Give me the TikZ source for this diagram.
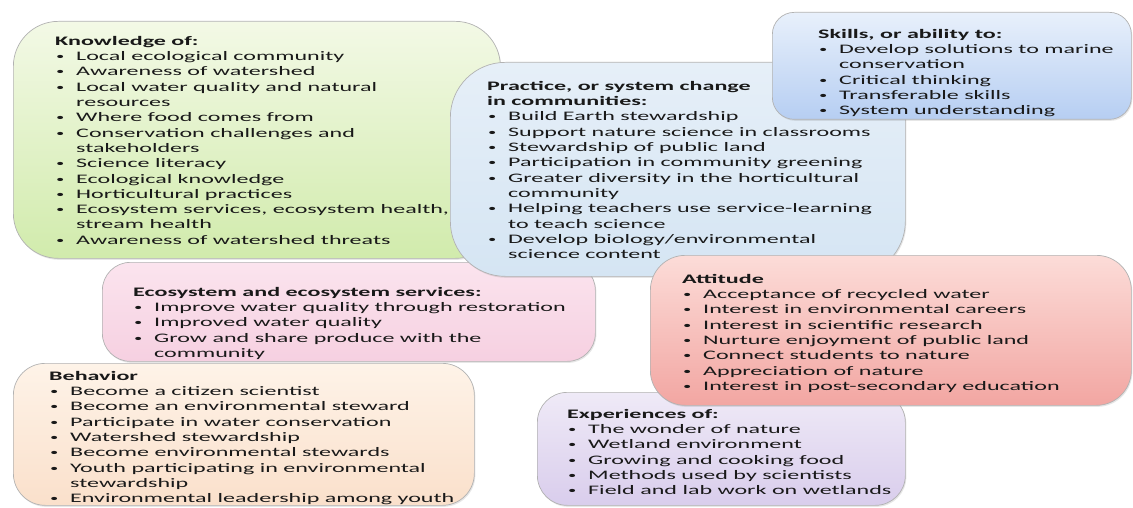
\documentclass[tikz,border=0pt]{standalone}
\usepackage{fontspec}
\setmainfont[FakeStretch=1.85]{Carlito}
\usetikzlibrary{shadows}
\definecolor{knowtop}{HTML}{F3F9E6}
\definecolor{knowbot}{HTML}{D1EBAC}
\definecolor{practop}{HTML}{E6EFF8}
\definecolor{pracbot}{HTML}{D5E5F3}
\definecolor{skiltop}{HTML}{E8F0FB}
\definecolor{skilbot}{HTML}{B6CEF2}
\definecolor{ecotop}{HTML}{FBE4EE}
\definecolor{ecobot}{HTML}{F6D0E1}
\definecolor{atttop}{HTML}{FCDCD8}
\definecolor{attbot}{HTML}{F2A6A2}
\definecolor{behtop}{HTML}{FEF3E8}
\definecolor{behbot}{HTML}{FAE0CB}
\definecolor{exptop}{HTML}{EFEAF7}
\definecolor{expbot}{HTML}{D9CDEC}
\newcommand{\bul}{\makebox[21pt][l]{\hspace*{1pt}\raisebox{1pt}{\fontsize{9}{9}\selectfont\textbullet}}}
\newcommand{\ind}{\hspace*{21pt}}
\begin{document}
\begin{tikzpicture}[x=1pt, y=-1pt,
  box/.style={draw=gray!60, line width=0.7pt, anchor=north west, inner sep=0pt,
    drop shadow={shadow xshift=1pt, shadow yshift=-1.5pt, opacity=0.2}},
  txt/.style={anchor=north west, inner sep=0pt, align=left, text=black!90,
    font=\fontsize{13}{15.3}\selectfont}]
%%%%% Frame %%%%%
\useasboundingbox (0,0) rectangle (1133,508);
%%%%% Knowledge %%%%%
\node[box, rounded corners=45pt, minimum width=487pt, minimum height=237pt,
  top color=knowtop, bottom color=knowbot] (know) at (13,21) {};
\node[txt] (knowtxt) at (55,36) {\textbf{Knowledge of:}\\
  \bul Local ecological community\\
  \bul Awareness of watershed\\
  \bul Local water quality and natural\\
  \ind resources\\
  \bul Where food comes from\\
  \bul Conservation challenges and\\
  \ind stakeholders\\
  \bul Science literacy\\
  \bul Ecological knowledge\\
  \bul Horticultural practices\\
  \bul Ecosystem services, ecosystem health,\\
  \ind stream health\\
  \bul Awareness of watershed threats};
%%%%% Ecosystem %%%%%
\node[box, rounded corners=28pt, minimum width=493pt, minimum height=99pt,
  top color=ecotop, bottom color=ecobot] (eco) at (102,262) {};
\node[txt] (ecotxt) at (133,287) {\textbf{Ecosystem and ecosystem services:}\\
  \bul Improve water quality through restoration\\
  \bul Improved water quality\\
  \bul Grow and share produce with the\\
  \ind community};
%%%%% Practice %%%%%
\node[box, rounded corners=55pt, minimum width=455pt, minimum height=214pt,
  top color=practop, bottom color=pracbot] (prac) at (450,62) {};
\node[txt] (practxt) at (487,81) {\textbf{Practice, or system change}\\
  \textbf{in communities:}\\
  \bul Build Earth stewardship\\
  \bul Support nature science in classrooms\\
  \bul Stewardship of public land\\
  \bul Participation in community greening\\
  \bul Greater diversity in the horticultural\\
  \ind community\\
  \bul Helping teachers use service-learning\\
  \ind to teach science\\
  \bul Develop biology/environmental\\
  \ind science content};
%%%%% Skills %%%%%
\node[box, rounded corners=22pt, minimum width=359pt, minimum height=107pt,
  top color=skiltop, bottom color=skilbot] (skil) at (772,12) {};
\node[txt] (skiltxt) at (818,29) {\textbf{Skills, or ability to:}\\
  \bul Develop solutions to marine\\
  \ind conservation\\
  \bul Critical thinking\\
  \bul Transferable skills\\
  \bul System understanding};
%%%%% Behavior %%%%%
\node[box, rounded corners=32pt, minimum width=461pt, minimum height=142pt,
  top color=behtop, bottom color=behbot] (beh) at (13,363) {};
\node[txt] (behtxt) at (49,371) {\textbf{Behavior}\\
  \bul Become a citizen scientist\\
  \bul Become an environmental steward\\
  \bul Participate in water conservation\\
  \bul Watershed stewardship\\
  \bul Become environmental stewards\\
  \bul Youth participating in environmental\\
  \ind stewardship\\
  \bul Environmental leadership among youth};
%%%%% Experiences %%%%%
\node[box, rounded corners=30pt, minimum width=368pt, minimum height=113pt,
  top color=exptop, bottom color=expbot] (expe) at (537,392) {};
\node[txt] (expetxt) at (567,409) {\textbf{Experiences of:}\\
  \bul The wonder of nature\\
  \bul Wetland environment\\
  \bul Growing and cooking food\\
  \bul Methods used by scientists\\
  \bul Field and lab work on wetlands};
%%%%% Attitude %%%%%
\node[box, rounded corners=35pt, minimum width=481pt, minimum height=150pt,
  top color=atttop, bottom color=attbot] (att) at (650,255) {};
\node[txt] (atttxt) at (682,274) {\textbf{Attitude}\\
  \bul Acceptance of recycled water\\
  \bul Interest in environmental careers\\
  \bul Interest in scientific research\\
  \bul Nurture enjoyment of public land\\
  \bul Connect students to nature\\
  \bul Appreciation of nature\\
  \bul Interest in post-secondary education};
\end{tikzpicture}
\end{document}
